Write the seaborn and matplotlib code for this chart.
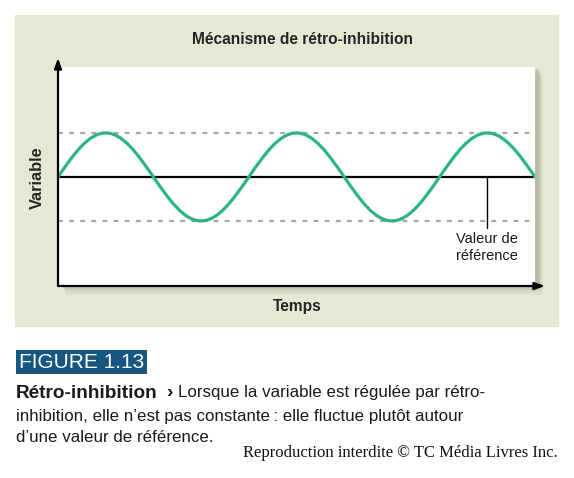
import seaborn as sns
import matplotlib.pyplot as plt
import matplotlib.patches as mpatches
from matplotlib.path import Path

# key points of the oscillation (quarter-period steps)
time_keys = [0, 1, 2, 3, 4, 5, 6, 7, 8, 9, 10]
value_keys = [0, 1, 0, -1, 0, 1, 0, -1, 0, 1, 0]

# horizontal reference levels
set_point = 0
band_levels = [1, -1]
marker_time = 9
marker_bottom = -1.16

title = "Mécanisme de rétro-inhibition"
x_label = "Temps"
y_label = "Variable"
marker_label = "Valeur de\nréférence"
fig_tag = "FIGURE 1.13"
caption_head = "Rétro-inhibition"
caption_lines = ["Lorsque la variable est régulée par rétro-",
                 "inhibition, elle n’est pas constante\u2009: elle fluctue plutôt autour",
                 "d’une valeur de référence."]
credit = "Reproduction interdite © TC Média Livres Inc."

sns.set_theme(style="white")
plt.rcParams['font.family'] = ['Liberation Sans', 'DejaVu Sans']

W, H = 574, 478
fig = plt.figure(figsize=(W / 100, H / 100), dpi=100)
fig.patch.set_facecolor("white")

def fx(x):
    return x / W

def fy(y):
    return 1 - y / H

# beige panel
fig.patches.append(mpatches.Rectangle((fx(15), fy(326)), fx(543), 311 / H,
                                      transform=fig.transFigure, color="#e6e8d4", zorder=-3))
# soft drop shadow behind the white plot area
for i, a in enumerate([0.05, 0.06, 0.08, 0.10, 0.12]):
    off = 9 - i * 2
    fig.patches.append(mpatches.Rectangle((fx(62 + off * 0.4), fy(286 + off)), fx(477), 219 / H,
                                          transform=fig.transFigure, color="#6d705c",
                                          alpha=a, zorder=-2, lw=0))

ax = fig.add_axes([fx(58), fy(286), fx(477), 219 / H])
ax.set_zorder(1)
ax.set_facecolor("white")
ax.set_xlim(0, 10)
ax.set_ylim(-2.48, 2.5)
for s in ax.spines.values():
    s.set_visible(False)
ax.set_xticks([])
ax.set_yticks([])

# reference lines
sns.lineplot(x=[time_keys[0], time_keys[-1]], y=[set_point, set_point], ax=ax,
             color="black", lw=1.6, zorder=2)
for lv in band_levels:
    sns.lineplot(x=[time_keys[0], time_keys[-1]], y=[lv, lv], ax=ax,
                 color="#a9a89c", lw=1.6, linestyle=(0, (2.2, 2.8)), zorder=2)

# oscillating variable, drawn as cubic curves through the key points
verts = [(time_keys[0], value_keys[0])]
codes = [Path.MOVETO]
for i in range(len(time_keys) - 1):
    t0, v0 = time_keys[i], value_keys[i]
    t1, v1 = time_keys[i + 1], value_keys[i + 1]
    dt = t1 - t0
    if v0 == set_point:
        c1 = (t0 + 0.3343 * dt, v0 + 0.5251 * (v1 - v0))
        c2 = (t0 + 0.6401 * dt, v1)
    else:
        c1 = (t0 + 0.3599 * dt, v0)
        c2 = (t0 + 0.6657 * dt, v1 + 0.5251 * (v0 - v1))
    verts += [c1, c2, (t1, v1)]
    codes += [Path.CURVE4] * 3
ax.add_patch(mpatches.PathPatch(Path(verts, codes), fill=False, edgecolor="#2bb585",
                                lw=2.3, zorder=3, capstyle="round"))

# set point marker
sns.lineplot(x=[marker_time, marker_time], y=[set_point, marker_bottom], ax=ax,
             estimator=None, sort=False, color="black", lw=1.0, zorder=2)
ax.text(marker_time, marker_bottom - 0.1, marker_label, ha="center", va="top",
        fontsize=10.5, linespacing=1.25, color="#1a1a1a")

# axis arrows
arrow = dict(arrowstyle="-|>,head_length=0.5,head_width=0.18", color="black", lw=1.6,
             shrinkA=0, shrinkB=0)
ax.annotate("", xy=(0, (286 - 58) / 219), xytext=(0, 0), xycoords="axes fraction",
            textcoords="axes fraction", arrowprops=arrow, annotation_clip=False)
ax.annotate("", xy=((545 - 58) / 477, 0), xytext=(0, 0), xycoords="axes fraction",
            textcoords="axes fraction", arrowprops=arrow, annotation_clip=False)

# titles and axis labels
fig.text(fx(303), fy(40), title, ha="center", va="center", fontsize=11.2, fontweight="bold")
fig.text(fx(297), fy(307), x_label, ha="center", va="center", fontsize=11.2, fontweight="bold")
fig.text(fx(37), fy(178), y_label, ha="center", va="center", rotation=90,
         fontsize=11.8, fontweight="bold")

# caption block
fig.text(fx(19), fy(362), fig_tag, ha="left", va="center", fontsize=15, color="white",
         bbox=dict(boxstyle="square,pad=0.14", fc="#185682", ec="none"))
head = fig.text(fx(16), fy(393), caption_head, ha="left", va="center",
                fontsize=13.7, fontweight="bold", color="#1a1a1a")
chev = plt.annotate("›", xy=(1, 0.5), xycoords=head, xytext=(6, 0), textcoords="offset points",
                    ha="left", va="center", fontsize=14, fontweight="bold", color="#1a1a1a")
plt.annotate(caption_lines[0], xy=(1, 0.5), xycoords=chev, xytext=(4, 0),
             textcoords="offset points", ha="left", va="center", fontsize=12.2, color="#1a1a1a")
fig.text(fx(16), fy(416), caption_lines[1], ha="left", va="center", fontsize=12.2, color="#1a1a1a")
fig.text(fx(16), fy(437), caption_lines[2], ha="left", va="center", fontsize=12.2, color="#1a1a1a")
fig.text(fx(558), fy(453), credit, ha="right", va="center", fontsize=12.0,
         family=["Liberation Serif", "DejaVu Serif"], color="#111111")

fig.savefig("out.png", dpi=100)
